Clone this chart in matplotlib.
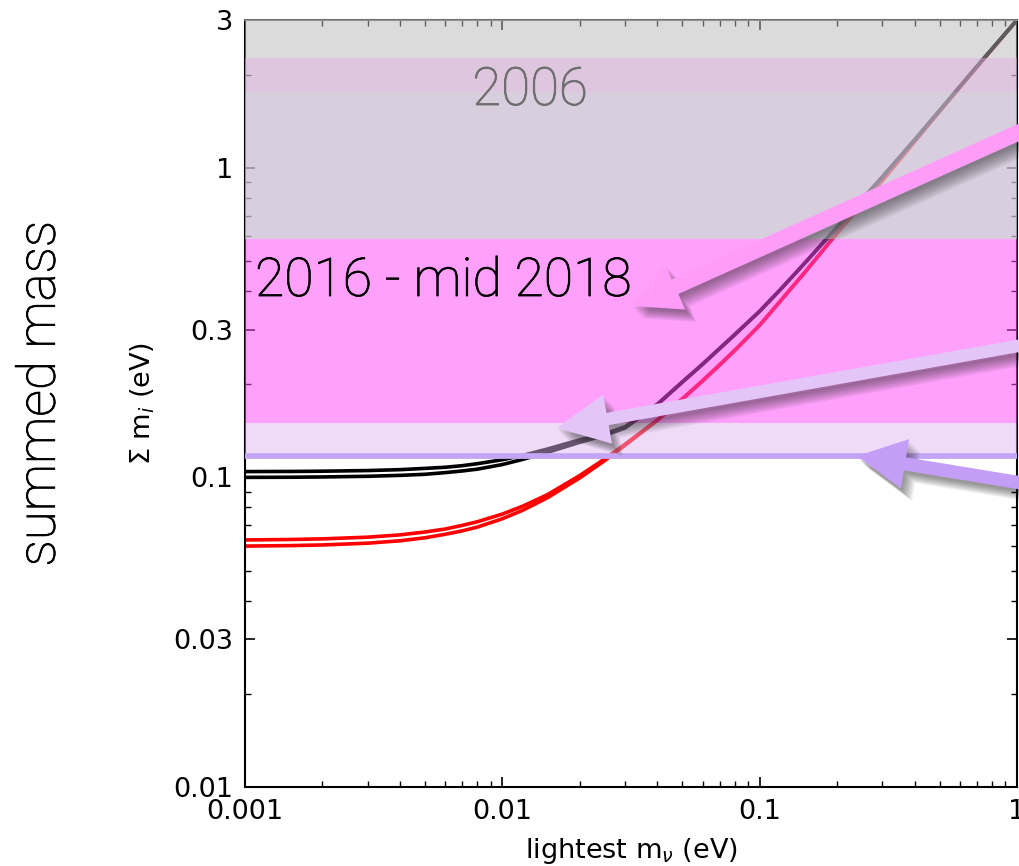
import matplotlib
matplotlib.use('Agg')
import matplotlib.pyplot as plt
from matplotlib.patches import FancyArrowPatch
from matplotlib.ticker import NullFormatter
import matplotlib.patheffects as pe

# lightest neutrino mass (eV)
m_light = [0.001, 0.0015, 0.002, 0.003, 0.004, 0.005, 0.006, 0.007, 0.008, 0.01,
           0.012, 0.015, 0.02, 0.025, 0.03, 0.04, 0.05, 0.06, 0.07, 0.08,
           0.1, 0.12, 0.15, 0.2, 0.25, 0.3, 0.4, 0.5, 0.7, 1.0]

# summed mass (eV), lower and upper edge of each ordering
nh_lo = [0.0600, 0.0602, 0.0605, 0.0613, 0.0624, 0.0638, 0.0655, 0.0672, 0.0691, 0.0735,
         0.0783, 0.0860, 0.0996, 0.1133, 0.1270, 0.1527, 0.1786, 0.2046, 0.2305, 0.2565,
         0.310, 0.370, 0.460, 0.615, 0.765, 0.910, 1.215, 1.52, 2.12, 3.0]
nh_hi = [0.0628, 0.0630, 0.0633, 0.0641, 0.0652, 0.0666, 0.0681, 0.0700, 0.0719, 0.0761,
         0.0807, 0.0880, 0.1014, 0.1147, 0.1280, 0.1533, 0.1794, 0.2054, 0.2315, 0.2575,
         0.310, 0.370, 0.460, 0.615, 0.765, 0.910, 1.215, 1.52, 2.12, 3.0]
ih_lo = [0.1000, 0.1001, 0.1003, 0.1008, 0.1015, 0.1023, 0.1036, 0.1049, 0.1063, 0.1100,
         0.1143, 0.1205, 0.1298, 0.1367, 0.1444, 0.1717, 0.2026, 0.2316, 0.2606, 0.2885,
         0.344, 0.403, 0.493, 0.643, 0.790, 0.935, 1.230, 1.53, 2.13, 3.0]
ih_hi = [0.1044, 0.1045, 0.1047, 0.1052, 0.1059, 0.1069, 0.1078, 0.1091, 0.1107, 0.1140,
         0.1177, 0.1235, 0.1322, 0.1383, 0.1456, 0.1723, 0.2034, 0.2324, 0.2614, 0.2895,
         0.344, 0.403, 0.493, 0.643, 0.790, 0.935, 1.230, 1.53, 2.13, 3.0]

# cosmological upper limits on the summed mass, drawn as shaded bands
band_bottom = [2.26, 1.76, 0.59, 0.15, 0.12]
band_top = [3.0, 2.26, 1.76, 0.59, 0.15]
band_colors = ['#b8b8b8', '#d3b0d3', '#cbbed3', '#ff4cfa', '#deb4f0']
band_alpha = [0.50, 0.72, 0.75, 0.52, 0.47]
limit_now = 0.117

x_ticks = [0.001, 0.01, 0.1, 1]
x_tick_labels = ['0.001', '0.01', '0.1', '1']
y_ticks = [0.01, 0.03, 0.1, 0.3, 1, 3]
y_tick_labels = ['0.01', '0.03', '0.1', '0.3', '1', '3']

W, H = 1019, 866
fig = plt.figure(figsize=(W / 100, H / 100), dpi=100)
ax = fig.add_axes([245 / W, 1 - 787 / H, (1017 - 245) / W, (787 - 20) / H])

ax.set_xscale('log')
ax.set_yscale('log')
ax.set_xlim(0.001, 1)
ax.set_ylim(0.01, 3)

# normal ordering first, inverted ordering on top of it
for curve in [nh_lo, nh_hi]:
    ax.plot(m_light, curve, color='#ff0000', lw=2.6, zorder=2)
for curve in [ih_lo, ih_hi]:
    ax.plot(m_light, curve, color='black', lw=2.6, zorder=2.1)

for b, t, c, a in zip(band_bottom, band_top, band_colors, band_alpha):
    ax.axhspan(b, t, color=c, alpha=a, lw=0, zorder=3)
ax.axhline(limit_now, color='#c4a5f5', lw=4.2, zorder=4)

ax.set_xticks(x_ticks)
ax.set_xticklabels(x_tick_labels)
ax.set_yticks(y_ticks)
ax.set_yticklabels(y_tick_labels)
ax.xaxis.set_minor_formatter(NullFormatter())
ax.yaxis.set_minor_formatter(NullFormatter())
ax.tick_params(which='both', direction='in', top=True, right=True, labelsize=19.5)
ax.tick_params(which='major', length=7, width=1.2, pad=8.5)
ax.tick_params(which='minor', length=4, width=1.0)
for side in ['left', 'bottom', 'right', 'top']:
    ax.spines[side].set_linewidth(1.5)
ax.spines['top'].set_color('#707070')

ax.set_xlabel(r'lightest m$_\nu$ (eV)', fontsize=19.5)
ax.xaxis.set_label_coords(0.5, -0.064)
ax.xaxis.label.set_va('top')
ax.set_ylabel(r'$\Sigma$ m$_i$ (eV)', fontsize=19.5)
ax.yaxis.set_label_coords(-0.114, 0.5)

# light face, slightly thickened with a thin outline of the same colour
big = dict(family=['Roboto', 'Liberation Sans', 'DejaVu Sans'], weight='light')
t1 = fig.text(530 / W, 1 - 105 / H, '2006', fontsize=38, color='#6e6e6e',
              ha='center', va='baseline', zorder=6, **big)
t2 = fig.text(255 / W, 1 - 296 / H, '2016 - mid 2018', fontsize=38.5, color='black',
              ha='left', va='baseline', zorder=6, **big)
t3 = fig.text(40 / W, 1 - 394 / H, 'summed mass', fontsize=38, color='black',
              rotation=90, ha='center', va='center', **big)
for t in [t1, t2, t3]:
    t.set_path_effects([pe.Stroke(linewidth=0.6, foreground=t.get_color()), pe.Normal()])

# pointer arrows with soft drop shadows
shadow = [pe.SimplePatchShadow(offset=(k, -k - 1), shadow_rgbFace='#202020', alpha=0.07)
          for k in range(1, 9)] + [pe.Normal()]
arrows = [((1040, 123), (632, 306), '#ff9cf8', 11.5, 36, 34),
          ((1040, 342), (557, 428), '#e3c5f8', 9.0, 36, 37),
          ((1040, 486), (857, 456), '#c49ef6', 9.5, 36, 35)]
for (x0, y0), (x1, y1), col, tw, hw, hl in arrows:
    arr = FancyArrowPatch((x0 / W, 1 - y0 / H), (x1 / W, 1 - y1 / H),
                          transform=fig.transFigure,
                          arrowstyle=f'simple,head_length={hl},head_width={hw},tail_width={tw}',
                          mutation_scale=1, color=col, lw=0, shrinkA=0, shrinkB=0,
                          zorder=7, clip_on=False)
    arr.set_path_effects(shadow)
    fig.add_artist(arr)

fig.savefig('out.png', dpi=100)
